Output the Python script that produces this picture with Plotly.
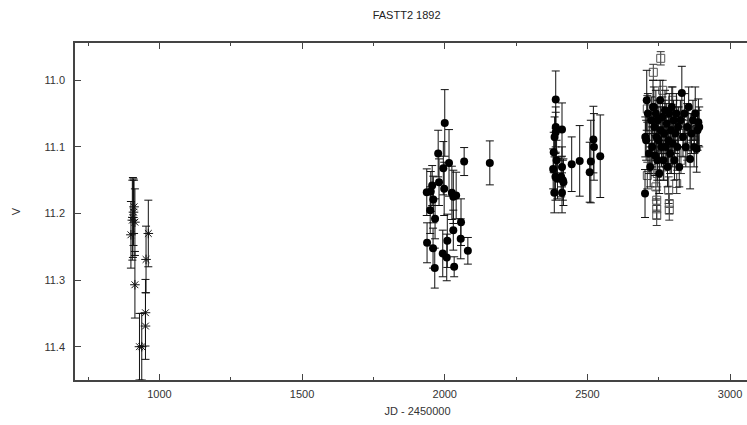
import plotly.graph_objects as go

# ----------------------------------------------------------------------
# Data (JD - 2450000, V magnitude, error)
# ----------------------------------------------------------------------
STAR_JD = [900, 905, 907, 909, 911, 914, 914, 930, 938, 951, 951, 953, 961]
STAR_V = [11.232, 11.21, 11.206, 11.198, 11.19, 11.213, 11.307, 11.40, 11.40, 11.349, 11.369, 11.269, 11.23]
STAR_ERR = [0.05, 0.06, 0.06, 0.05, 0.04, 0.05, 0.05, 0.05, 0.05, 0.05, 0.05, 0.05, 0.05]

CIRC_JD = [
    2000, 1977, 2015, 2068, 2158, 1995, 1980, 1998, 1956, 1937, 1951, 2025, 2040, 1960, 2030,
    1949, 1966, 2057, 2030, 2056, 2009, 1938, 1959, 2081, 1993, 2007, 2033, 1965,
    2389, 2411, 2389, 2389, 2385, 2382, 2392, 2380, 2388, 2395, 2384, 2411, 2408, 2414, 2416, 2411,
    2445, 2473, 2512, 2508, 2521, 2523, 2545,
    2702, 2703, 2706, 2708, 2712, 2716, 2720, 2724, 2727, 2730, 2733, 2735, 2737, 2740, 2742,
    2745, 2747, 2750, 2752, 2755, 2757, 2760, 2763, 2766, 2769, 2772, 2775, 2778, 2781, 2784,
    2787, 2790, 2793, 2796, 2799, 2802, 2805, 2808, 2812, 2815, 2818, 2822, 2826, 2831, 2835,
    2840, 2845, 2850, 2855, 2860, 2865, 2870, 2874, 2878, 2883, 2886, 2889, 2892,
]
CIRC_V = [
    11.064, 11.110, 11.124, 11.122, 11.124, 11.132, 11.153, 11.163, 11.158, 11.168, 11.167, 11.169, 11.173, 11.179, 11.175,
    11.195, 11.208, 11.213, 11.225, 11.238, 11.241, 11.244, 11.252, 11.256, 11.260, 11.266, 11.280, 11.282,
    11.029, 11.074, 11.070, 11.078, 11.085, 11.108, 11.120, 11.133, 11.145, 11.148, 11.169, 11.130, 11.145, 11.150, 11.153, 11.169,
    11.126, 11.121, 11.122, 11.138, 11.089, 11.100, 11.114,
    11.170, 11.085, 11.090, 11.030, 11.050, 11.110, 11.130, 11.060, 11.100, 11.040, 11.040, 11.070, 11.113, 11.050, 11.085,
    11.120, 11.060, 11.090, 11.140, 11.030, 11.075, 11.100, 11.055, 11.120, 11.080, 11.045, 11.100, 11.065, 11.130, 11.090,
    11.050, 11.110, 11.075, 11.040, 11.095, 11.060, 11.120, 11.080, 11.050, 11.100, 11.070, 11.130, 11.060, 11.019, 11.085,
    11.050, 11.100, 11.070, 11.040, 11.118, 11.080, 11.060, 11.100, 11.050, 11.103, 11.075, 11.063, 11.070,
]
CIRC_ERR = [
    0.05, 0.035, 0.05, 0.021, 0.033, 0.04, 0.035, 0.04, 0.03, 0.035, 0.03, 0.04, 0.035, 0.035, 0.04,
    0.035, 0.03, 0.035, 0.03, 0.03, 0.04, 0.03, 0.03, 0.02, 0.035, 0.035, 0.015, 0.03,
    0.043, 0.04, 0.03, 0.03, 0.03, 0.03, 0.03, 0.03, 0.035, 0.03, 0.03, 0.03, 0.03, 0.03, 0.035, 0.03,
    0.041, 0.053, 0.062, 0.045, 0.05, 0.05, 0.062,
    0.036, 0.03, 0.03, 0.045, 0.03, 0.03, 0.03, 0.035, 0.03, 0.04, 0.03, 0.03, 0.03, 0.035, 0.03,
    0.03, 0.03, 0.03, 0.03, 0.03, 0.035, 0.03, 0.03, 0.03, 0.03, 0.03, 0.03, 0.03, 0.03, 0.035,
    0.03, 0.03, 0.03, 0.03, 0.035, 0.03, 0.03, 0.03, 0.03, 0.035, 0.03, 0.03, 0.03, 0.04, 0.03,
    0.03, 0.03, 0.035, 0.03, 0.045, 0.03, 0.03, 0.03, 0.04, 0.035, 0.03, 0.035, 0.03,
]

SQ_JD = [
    2710, 2710, 2718, 2725, 2731, 2735, 2740, 2743, 2743, 2743, 2745, 2748, 2752, 2757, 2760, 2764, 2768,
    2772, 2776, 2780, 2785, 2787, 2787, 2790, 2795, 2799, 2805, 2813, 2820, 2828, 2838, 2850, 2862, 2875,
]
SQ_V = [
    11.043, 11.143, 11.070, 11.120, 10.988, 11.100, 11.160, 11.180, 11.193, 11.203, 11.140, 11.060, 11.100, 10.967, 11.080, 11.015, 11.130,
    11.050, 11.110, 11.090, 11.165, 11.185, 11.195, 11.070, 11.120, 11.030, 11.090, 11.155, 11.060, 11.120, 11.080, 11.100, 11.070, 11.090,
]
SQ_ERR = [
    0.02, 0.02, 0.02, 0.02, 0.012, 0.02, 0.02, 0.015, 0.015, 0.015, 0.02, 0.02, 0.02, 0.01, 0.02, 0.015, 0.02,
    0.02, 0.02, 0.02, 0.02, 0.015, 0.015, 0.02, 0.02, 0.02, 0.02, 0.015, 0.02, 0.02, 0.02, 0.02, 0.02, 0.02,
]

# the original plot is cropped on the right: the frame runs past the picture edge
X_RANGE = [704, 3105]
Y_RANGE = [11.45, 10.944]

FONT = "Liberation Sans, Arial, sans-serif"
AXIS = "#444444"


def err(arr, color="#111111"):
    return dict(type="data", array=arr, visible=True, thickness=1, width=4, color=color)


fig = go.Figure()

fig.add_trace(go.Scatter(
    x=STAR_JD, y=STAR_V, mode="markers",
    marker=dict(symbol="asterisk-open", size=8, color="#111111", line=dict(color="#111111", width=1)),
    error_y=err(STAR_ERR), showlegend=False,
))
fig.add_trace(go.Scatter(
    x=SQ_JD, y=SQ_V, mode="markers",
    marker=dict(symbol="square-open", size=8, color="#555555", line=dict(color="#555555", width=1)),
    error_y=err(SQ_ERR, "#333333"), showlegend=False,
))
fig.add_trace(go.Scatter(
    x=CIRC_JD, y=CIRC_V, mode="markers",
    marker=dict(symbol="circle", size=8, color="#000000"),
    error_y=err(CIRC_ERR), showlegend=False,
))

fig.update_layout(
    width=760, height=425,
    paper_bgcolor="white", plot_bgcolor="white",
    margin=dict(l=75, r=0, t=43, b=45, autoexpand=False),
    font=dict(family=FONT, size=11, color="#333333"),
    hovermode=False,
    title=dict(text="FASTT2 1892", x=0.535, xanchor="center", y=0.973, yanchor="top",
               font=dict(family=FONT, size=11, color="#222222")),
)
fig.update_xaxes(
    range=X_RANGE, showgrid=False, zeroline=False, automargin=False,
    showline=True, linecolor=AXIS, linewidth=1.5, mirror="ticks",
    ticks="inside", ticklen=6, tickcolor=AXIS, dtick=500, tick0=0,
    minor=dict(ticks="inside", ticklen=3, dtick=250, tickcolor=AXIS),
    ticklabelstandoff=3,
    title=dict(text="JD - 2450000", standoff=8, font=dict(size=11)),
    tickfont=dict(size=11),
)
fig.update_yaxes(
    range=Y_RANGE, showgrid=False, zeroline=False, automargin=False,
    showline=True, linecolor=AXIS, linewidth=1.5, mirror=False,
    ticks="inside", ticklen=6, tickcolor=AXIS, dtick=0.1, tick0=11.0,
    tickformat=".1f", ticklabelstandoff=6,
    title=dict(text="V", standoff=22, font=dict(size=11)),
    tickfont=dict(size=11),
)

# the page body has a default 8px margin; drop it so the figure sits at 0,0
fig.write_html("out.html", config={"displayModeBar": False},
               post_script="document.body.style.margin='0';document.body.style.overflow='hidden';")
